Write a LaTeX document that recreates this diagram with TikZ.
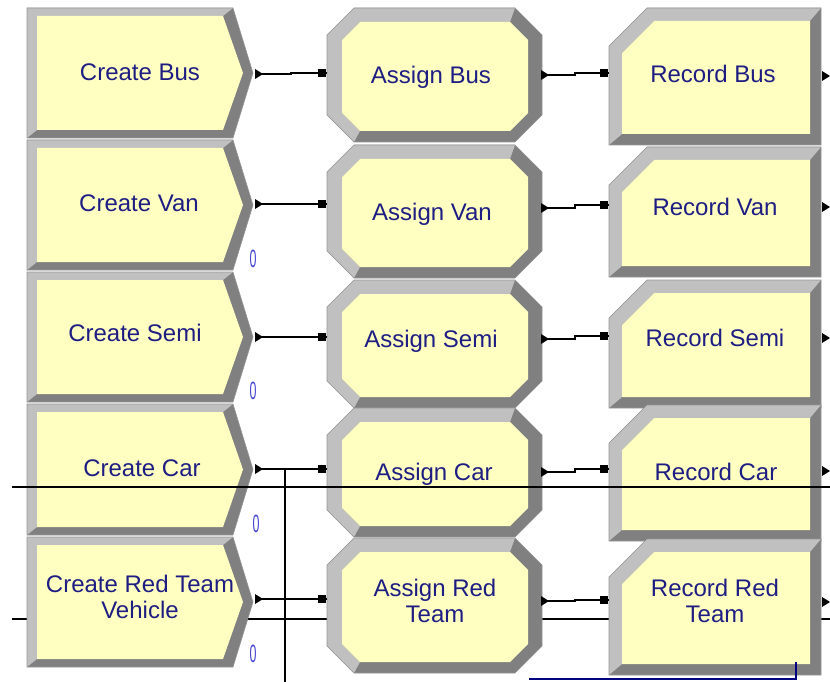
\documentclass[tikz,border=0pt]{standalone}
\usepackage{fontspec}
\usepackage{graphicx}
\setmainfont{Liberation Sans}
\usetikzlibrary{calc}
\definecolor{modfill}{RGB}{255,255,194}
\definecolor{bevlight}{RGB}{192,192,192}
\definecolor{bevdark}{RGB}{128,128,128}
\definecolor{bevedge}{RGB}{150,150,150}
\definecolor{labeltext}{RGB}{30,30,130}
\definecolor{zerotext}{RGB}{70,70,210}
\definecolor{navyline}{RGB}{0,0,128}
\tikzset{
  modlabel/.style={font=\fontsize{24}{26}\selectfont, text=labeltext, inner sep=0pt, anchor=center},
  oneline/.style={modlabel, text height=17.2pt, text depth=0pt},
  twoline/.style={modlabel, align=center},
  zerolabel/.style={font=\fontsize{25}{27}\selectfont, text=zerotext, inner sep=0pt, anchor=center},
  conn/.style={draw=black, line width=1.4pt},
  longline/.style={draw=black, line width=1.2pt},
  blueline/.style={draw=navyline, line width=1.5pt},
  modedge/.style={draw=bevedge, line width=0.6pt},
}
% Create module: #1 name, #2 top, #3 bottom
\newcommand{\CreateBlock}[3]{%
  \pgfmathsetmacro{\blkT}{#2}\pgfmathsetmacro{\blkB}{#3}%
  \pgfmathsetmacro{\blkM}{(#2+#3)/2}%
  \pgfmathsetmacro{\blkTi}{#2+8}\pgfmathsetmacro{\blkBi}{#3-8}%
  \fill[bevdark] (27,\blkT) -- (233,\blkT) -- (253,\blkM) -- (233,\blkB) -- (27,\blkB) -- cycle;
  \fill[bevlight] (27,\blkB) -- (27,\blkT) -- (233,\blkT) -- (223,\blkTi) -- (37,\blkTi) -- (37,\blkBi) -- cycle;
  \fill[modfill] (37,\blkTi) -- (223,\blkTi) -- (243,\blkM) -- (223,\blkBi) -- (37,\blkBi) -- cycle;
  \draw[modedge] (27,\blkT) -- (233,\blkT) -- (253,\blkM) -- (233,\blkB) -- (27,\blkB) -- cycle;
}
% Assign module: #1 name, #2 top, #3 bottom
\newcommand{\AssignBlock}[3]{%
  \pgfmathsetmacro{\blkT}{#2}\pgfmathsetmacro{\blkB}{#3}%
  \pgfmathsetmacro{\blkTc}{#2+27}\pgfmathsetmacro{\blkBc}{#3-27}%
  \pgfmathsetmacro{\blkTi}{#2+14}\pgfmathsetmacro{\blkBi}{#3-11}%
  \pgfmathsetmacro{\blkTic}{#2+32}\pgfmathsetmacro{\blkBic}{#3-29}%
  \fill[bevdark] (327,\blkTc) -- (354,\blkT) -- (515,\blkT) -- (542,\blkTc) -- (542,\blkBc) -- (515,\blkB) -- (354,\blkB) -- (327,\blkBc) -- cycle;
  \fill[bevlight] (354,\blkB) -- (327,\blkBc) -- (327,\blkTc) -- (354,\blkT) -- (515,\blkT) -- (510,\blkTi) -- (360,\blkTi) -- (342,\blkTic) -- (342,\blkBic) -- (360,\blkBi) -- cycle;
  \fill[modfill] (342,\blkTic) -- (360,\blkTi) -- (510,\blkTi) -- (528,\blkTic) -- (528,\blkBic) -- (510,\blkBi) -- (360,\blkBi) -- (342,\blkBic) -- cycle;
  \draw[modedge] (327,\blkTc) -- (354,\blkT) -- (515,\blkT) -- (542,\blkTc) -- (542,\blkBc) -- (515,\blkB) -- (354,\blkB) -- (327,\blkBc) -- cycle;
}
% Record module: #1 name, #2 top, #3 bottom
\newcommand{\RecordBlock}[3]{%
  \pgfmathsetmacro{\blkT}{#2}\pgfmathsetmacro{\blkB}{#3}%
  \pgfmathsetmacro{\blkTc}{#2+38}%
  \pgfmathsetmacro{\blkTi}{#2+13}\pgfmathsetmacro{\blkBi}{#3-11}%
  \pgfmathsetmacro{\blkTic}{#2+45}%
  \fill[bevdark] (609,\blkTc) -- (647,\blkT) -- (821,\blkT) -- (821,\blkB) -- (609,\blkB) -- cycle;
  \fill[bevlight] (609,\blkB) -- (609,\blkTc) -- (647,\blkT) -- (821,\blkT) -- (810,\blkTi) -- (654,\blkTi) -- (622,\blkTic) -- (622,\blkBi) -- cycle;
  \fill[modfill] (622,\blkTic) -- (654,\blkTi) -- (810,\blkTi) -- (810,\blkBi) -- (622,\blkBi) -- cycle;
  \draw[modedge] (609,\blkTc) -- (647,\blkT) -- (821,\blkT) -- (821,\blkB) -- (609,\blkB) -- cycle;
}
\newcommand{\OutMark}[1]{\fill ($(#1)+(0,-5)$) -- ($(#1)+(8,0)$) -- ($(#1)+(0,5)$) -- cycle;}
\newcommand{\InMark}[1]{\fill ($(#1)+(-9,-4)$) rectangle ($(#1)+(-1,4)$);}
\begin{document}
\begin{tikzpicture}[x=1pt,y=-1pt]
\useasboundingbox[fill=white] (0,0) rectangle (830,682);
% line running behind the bottom row
\coordinate (lb-l) at (12,619);
\coordinate (lb-r) at (830,619);
\draw[longline] (lb-l) -- (lb-r);
% Create column
\CreateBlock{cb}{8}{138}
\CreateBlock{cv}{140}{270}
\CreateBlock{cs}{272}{402}
\CreateBlock{cc}{404}{535}
\CreateBlock{cr}{537}{667}
% Assign column
\AssignBlock{ab}{8}{142}
\AssignBlock{av}{145}{278}
\AssignBlock{as}{280}{408}
\AssignBlock{ac}{408}{537}
\AssignBlock{ar}{538}{673}
% Record column
\RecordBlock{rb}{8}{145}
\RecordBlock{rv}{147}{277}
\RecordBlock{rs}{280}{408}
\RecordBlock{rc}{405}{541}
\RecordBlock{rr}{539}{675}
% labels
\node[oneline] (cb-t) at (140,72) {Create Bus};
\node[oneline] (cv-t) at (139,203) {Create Van};
\node[oneline] (cs-t) at (135,333) {Create Semi};
\node[oneline] (cc-t) at (142,468) {Create Car};
\node[twoline] (cr-t) at (140,597) {Create Red Team\\Vehicle};
\node[oneline] (ab-t) at (431,75) {Assign Bus};
\node[oneline] (av-t) at (432,212) {Assign Van};
\node[oneline] (as-t) at (431,339) {Assign Semi};
\node[oneline] (ac-t) at (434,472) {Assign Car};
\node[twoline] (ar-t) at (435,601) {Assign Red\\Team};
\node[oneline] (rb-t) at (713,74) {Record Bus};
\node[oneline] (rv-t) at (715,207) {Record Van};
\node[oneline] (rs-t) at (715,338) {Record Semi};
\node[oneline] (rc-t) at (716,472) {Record Car};
\node[twoline] (rr-t) at (715,601) {Record Red\\Team};
% zero counters
\node[zerolabel] (z-v) at (253,259) {\scalebox{0.5}[1]{0}};
\node[zerolabel] (z-s) at (253,391) {\scalebox{0.5}[1]{0}};
\node[zerolabel] (z-c) at (256,524) {\scalebox{0.5}[1]{0}};
\node[zerolabel] (z-r) at (253,654) {\scalebox{0.5}[1]{0}};
% ports
\coordinate (cb-out) at (255,74);  \coordinate (ab-in) at (327,73);
\coordinate (cv-out) at (255,204); \coordinate (av-in) at (327,204);
\coordinate (cs-out) at (255,337); \coordinate (as-in) at (327,337);
\coordinate (cc-out) at (255,469); \coordinate (ac-in) at (327,469);
\coordinate (cr-out) at (255,599); \coordinate (ar-in) at (327,599);
\coordinate (ab-out) at (541,75);  \coordinate (rb-in) at (609,73);
\coordinate (av-out) at (541,208); \coordinate (rv-in) at (609,205);
\coordinate (as-out) at (541,339); \coordinate (rs-in) at (609,336);
\coordinate (ac-out) at (541,472); \coordinate (rc-in) at (609,469);
\coordinate (ar-out) at (541,601); \coordinate (rr-in) at (609,600);
\coordinate (rb-out) at (822,76);
\coordinate (rv-out) at (822,207);
\coordinate (rs-out) at (822,338);
\coordinate (rc-out) at (822,471);
\coordinate (rr-out) at (822,602);
% connectors
\draw[conn] (cb-out) -- ++(36,0) |- (ab-in);
\draw[conn] (cv-out) -- (av-in);
\draw[conn] (cs-out) -- (as-in);
\draw[conn] (cc-out) -- (ac-in);
\draw[conn] (cr-out) -- (ar-in);
\draw[conn] (ab-out) -- ++(34,0) |- (rb-in);
\draw[conn] (av-out) -- ++(34,0) |- (rv-in);
\draw[conn] (as-out) -- ++(34,0) |- (rs-in);
\draw[conn] (ac-out) -- ++(34,0) |- (rc-in);
\draw[conn] (ar-out) -- ++(34,0) |- (rr-in);
\foreach \p in {cb,cv,cs,cc,cr,ab,av,as,ac,ar,rb,rv,rs,rc,rr} {\OutMark{\p-out}}
\foreach \p in {ab,av,as,ac,ar,rb,rv,rs,rc,rr} {\InMark{\p-in}}
% line across the car row
\coordinate (la-l) at (12,487);
\coordinate (la-r) at (830,487);
\draw[longline] (la-l) -- (la-r);
% vertical branch from the car connector
\coordinate (vb-top) at (285,469);
\coordinate (vb-bot) at (285,682);
\draw[longline] (vb-top) -- (vb-bot);
% blue line
\coordinate (bl-a) at (529,679);
\coordinate (bl-b) at (796,662);
\draw[blueline] (bl-a) -| (bl-b);
\end{tikzpicture}
\end{document}
